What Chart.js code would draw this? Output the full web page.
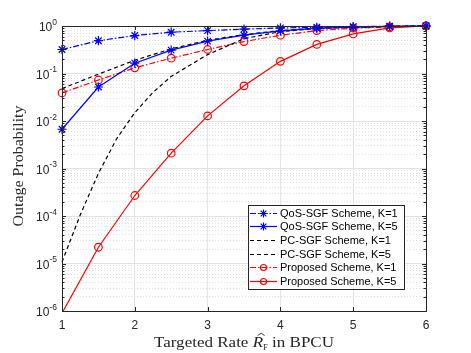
<!DOCTYPE html>
<html>
<head>
<meta charset="utf-8">
<script src="https://cdn.jsdelivr.net/npm/chart.js@4.4.1/dist/chart.umd.min.js"></script>
<style>
  html, body { margin: 0; padding: 0; background: #fff; }
  #wrap { width: 471px; height: 353px; }
</style>
</head>
<body>
<div id="wrap"><canvas id="outage"></canvas></div>
<script>
// targeted rate (BPCU) where the marked curves were sampled
const rates = [1, 1.5, 2, 2.5, 3, 3.5, 4, 4.5, 5, 5.5, 6];

const qosK1 = [0.32, 0.49, 0.63, 0.74, 0.80, 0.86, 0.91, 0.94, 0.97, 0.99, 1.0];
const qosK5 = [0.0067, 0.052, 0.165, 0.31, 0.48, 0.64, 0.79, 0.89, 0.95, 0.98, 1.0];
const propK1 = [0.039, 0.073, 0.132, 0.21, 0.32, 0.47, 0.64, 0.80, 0.90, 0.96, 1.0];
const propK5 = [9e-7, 2.2e-5, 2.7e-4, 2.1e-3, 0.0128, 0.055, 0.18, 0.41, 0.68, 0.91, 1.0];

// PC-SGF curves are drawn without markers
const pcRatesK1 = [1, 1.5, 2, 2.5, 3, 3.5, 4, 4.5, 5, 5.5, 6];
const pcK1 = [0.048, 0.097, 0.19, 0.33, 0.50, 0.66, 0.80, 0.90, 0.95, 0.98, 1.0];
const pcRatesK5 = [1, 1.25, 1.5, 1.75, 2, 2.25, 2.5, 3, 3.5, 4, 4.5, 5, 5.5, 6];
const pcK5 = [1.07e-5, 1.05e-4, 7.9e-4, 4.2e-3, 0.015, 0.04, 0.087, 0.25, 0.54, 0.76, 0.89, 0.95, 0.98, 1.0];

const seriesNames = [
    'QoS-SGF Scheme, K=1',
    'QoS-SGF Scheme, K=5',
    'PC-SGF Scheme, K=1',
    'PC-SGF Scheme, K=5',
    'Proposed Scheme, K=1',
    'Proposed Scheme, K=5'
];

const xTicks = [1, 2, 3, 4, 5, 6];
const yDecades = [-6, -5, -4, -3, -2, -1, 0];
const Y_MIN = 1e-6;

const SANS = '"Liberation Sans", Arial, Helvetica, sans-serif';
const SERIF = '"Liberation Serif", "Times New Roman", serif';
const AXIS = '#262626';

const pts = (xs, ys) => xs.map((x, i) => ({ x: x, y: ys[i] }));

const DASHDOT = [6, 2, 1.5, 2];
const DASHED = [4, 3];

function series(label, xs, ys, color, dash, marker) {
    const r = marker ? (marker === 'star' ? 4.6 : 3.8) : 0;
    return {
        label: label,
        data: pts(xs, ys),
        borderColor: color,
        backgroundColor: 'rgba(0,0,0,0)',
        borderWidth: 1.2,
        borderDash: dash,
        pointStyle: marker || 'circle',
        markerSize: r,
        // markers that fall below the axis are not shown
        pointRadius: ctx => (ctx.raw && ctx.raw.y < Y_MIN) ? 0 : r,
        pointBorderWidth: 1.2,
        pointBorderColor: color,
        pointBackgroundColor: 'rgba(0,0,0,0)',
        tension: 0,
        clip: { left: 10, right: 10, top: 10, bottom: 0 }
    };
}

function drawMarker(ctx, style, cx, cy, r) {
    ctx.beginPath();
    if (style === 'star') {
        const d = r * Math.SQRT1_2;
        ctx.moveTo(cx - r, cy); ctx.lineTo(cx + r, cy);
        ctx.moveTo(cx, cy - r); ctx.lineTo(cx, cy + r);
        ctx.moveTo(cx - d, cy - d); ctx.lineTo(cx + d, cy + d);
        ctx.moveTo(cx - d, cy + d); ctx.lineTo(cx + d, cy - d);
    } else {
        ctx.arc(cx, cy, r, 0, Math.PI * 2);
    }
    ctx.stroke();
}

// frame, inside ticks, log tick labels, axis titles and the boxed legend
const decorations = {
    id: 'decorations',
    afterDraw(chart) {
        const { ctx, chartArea: a, scales: { x, y } } = chart;
        ctx.save();

        ctx.strokeStyle = AXIS;
        ctx.lineWidth = 1;
        ctx.setLineDash([]);
        ctx.beginPath();
        y.ticks.forEach(t => {
            const py = Math.round(y.getPixelForValue(t.value)) + 0.5;
            const len = t.major ? 4 : 2.5;
            ctx.moveTo(a.left, py); ctx.lineTo(a.left + len, py);
            ctx.moveTo(a.right, py); ctx.lineTo(a.right - len, py);
        });
        x.ticks.forEach(t => {
            const px = Math.round(x.getPixelForValue(t.value)) + 0.5;
            ctx.moveTo(px, a.bottom); ctx.lineTo(px, a.bottom - 4);
            ctx.moveTo(px, a.top); ctx.lineTo(px, a.top + 4);
        });
        ctx.stroke();
        ctx.strokeRect(Math.round(a.left) + 0.5, Math.round(a.top) + 0.5,
            Math.round(a.right - a.left), Math.round(a.bottom - a.top));

        // y tick labels 10^n
        ctx.fillStyle = AXIS;
        ctx.textAlign = 'right';
        ctx.textBaseline = 'middle';
        const right = a.left - 5;
        y.ticks.filter(t => t.major).forEach(t => {
            const py = y.getPixelForValue(t.value);
            const exp = String(Math.round(Math.log10(t.value)));
            ctx.font = '8.5px ' + SANS;
            const ew = ctx.measureText(exp).width;
            ctx.fillText(exp, right, py - 3.5);
            ctx.font = '12px ' + SANS;
            ctx.fillText('10', right - ew, py + 2);
        });

        // x title: Targeted Rate R^_F in BPCU
        const parts = [
            { t: 'Targeted Rate ', f: '15px ' + SERIF, dy: 0 },
            { t: 'R', f: 'italic 15px ' + SERIF, dy: 0, hat: true },
            { t: 'F', f: '7.5px ' + SERIF, dy: 3 },
            { t: ' in BPCU', f: '15px ' + SERIF, dy: 0 }
        ];
        let total = 0;
        parts.forEach(p => { ctx.font = p.f; p.w = ctx.measureText(p.t).width; total += p.w; });
        const xTitleW = 180;
        const cx = (a.left + a.right) / 2;
        const base = 347;
        ctx.save();
        ctx.translate(cx - xTitleW / 2, base);
        ctx.scale(xTitleW / total, 1);
        ctx.textAlign = 'left';
        ctx.textBaseline = 'alphabetic';
        let xx = 0;
        parts.forEach(p => {
            ctx.font = p.f;
            ctx.fillText(p.t, xx, p.dy);
            if (p.hat) {
                ctx.beginPath();
                ctx.lineWidth = 0.8;
                ctx.moveTo(xx + 4.5, -11.5);
                ctx.lineTo(xx + 7.5, -13.8);
                ctx.lineTo(xx + 10.5, -11.5);
                ctx.stroke();
            }
            xx += p.w;
        });
        ctx.restore();

        // y title
        ctx.save();
        ctx.font = '15px ' + SERIF;
        const yTitle = 'Outage Probability';
        const yw = ctx.measureText(yTitle).width;
        ctx.translate(19, 166);
        ctx.rotate(-Math.PI / 2);
        ctx.scale(121 / yw, 1);
        ctx.textAlign = 'center';
        ctx.textBaseline = 'middle';
        ctx.fillText(yTitle, 0, 0);
        ctx.restore();

        // legend
        const box = { l: a.right - 22, t: a.bottom - 106, w: 156, h: 84 };
        box.l = box.l - box.w;
        ctx.fillStyle = '#fff';
        ctx.fillRect(box.l, box.t, box.w, box.h);
        ctx.strokeStyle = AXIS;
        ctx.lineWidth = 1;
        ctx.strokeRect(Math.round(box.l) + 0.5, Math.round(box.t) + 0.5, box.w, box.h);
        ctx.font = '11px ' + SANS;
        ctx.textAlign = 'left';
        ctx.textBaseline = 'middle';
        chart.data.datasets.forEach((ds, i) => {
            const ry = Math.round(box.t + 7.8 + i * 13.6) + 0.5;
            const lx = box.l + 2;
            ctx.strokeStyle = ds.borderColor;
            ctx.lineWidth = ds.borderWidth;
            ctx.setLineDash(ds.borderDash || []);
            ctx.beginPath();
            ctx.moveTo(lx, ry); ctx.lineTo(lx + 27, ry);
            ctx.stroke();
            ctx.setLineDash([]);
            if (ds.markerSize > 0) {
                drawMarker(ctx, ds.pointStyle, lx + 13.5, ry, ds.pointStyle === 'star' ? 4 : 3);
            }
            ctx.fillStyle = '#000';
            ctx.fillText(ds.label, lx + 30, ry);
        });

        ctx.restore();
    }
};

new Chart(document.getElementById('outage').getContext('2d'), {
    type: 'line',
    data: {
        datasets: [
            series(seriesNames[0], rates, qosK1, '#0000ff', DASHDOT, 'star'),
            series(seriesNames[1], rates, qosK5, '#0000ff', [], 'star'),
            series(seriesNames[2], pcRatesK1, pcK1, '#000000', DASHED, null),
            series(seriesNames[3], pcRatesK5, pcK5, '#000000', DASHED, null),
            series(seriesNames[4], rates, propK1, '#ff0000', DASHDOT, 'circle'),
            series(seriesNames[5], rates, propK5, '#ff0000', [], 'circle')
        ]
    },
    options: {
        responsive: true,
        maintainAspectRatio: false,
        devicePixelRatio: 1,
        animation: false,
        events: [],
        layout: {
            padding: { left: 0, right: 45, top: 26, bottom: 0 }
        },
        plugins: {
            legend: { display: false },
            tooltip: { enabled: false }
        },
        scales: {
            x: {
                type: 'linear',
                min: 1,
                max: 6,
                afterBuildTicks: s => { s.ticks = xTicks.map(v => ({ value: v, major: true })); },
                afterFit: s => { s.height = 42; },
                border: { display: false },
                grid: {
                    color: '#e4e4e4',
                    lineWidth: 1,
                    drawTicks: false
                },
                ticks: {
                    padding: 7,
                    color: AXIS,
                    font: { family: SANS, size: 12 },
                    maxRotation: 0,
                    autoSkip: false,
                    callback: v => String(v)
                }
            },
            y: {
                type: 'logarithmic',
                min: Y_MIN,
                max: 1,
                afterBuildTicks: s => {
                    const ticks = [];
                    yDecades.forEach(e => {
                        const top = e === 0 ? 1 : 9;
                        for (let m = 1; m <= top; m++) {
                            ticks.push({ value: m * Math.pow(10, e), major: m === 1 });
                        }
                    });
                    s.ticks = ticks;
                },
                afterFit: s => { s.width = 62; },
                border: {
                    display: false,
                    dash: ctx => (ctx.tick && ctx.tick.major) ? [] : [1, 2]
                },
                grid: {
                    color: ctx => (ctx.tick && ctx.tick.major) ? '#e2e2e2' : '#e0e0e0',
                    lineWidth: 1,
                    drawTicks: false
                },
                ticks: {
                    display: false,
                    autoSkip: false
                }
            }
        }
    },
    plugins: [decorations]
});
</script>
</body>
</html>
